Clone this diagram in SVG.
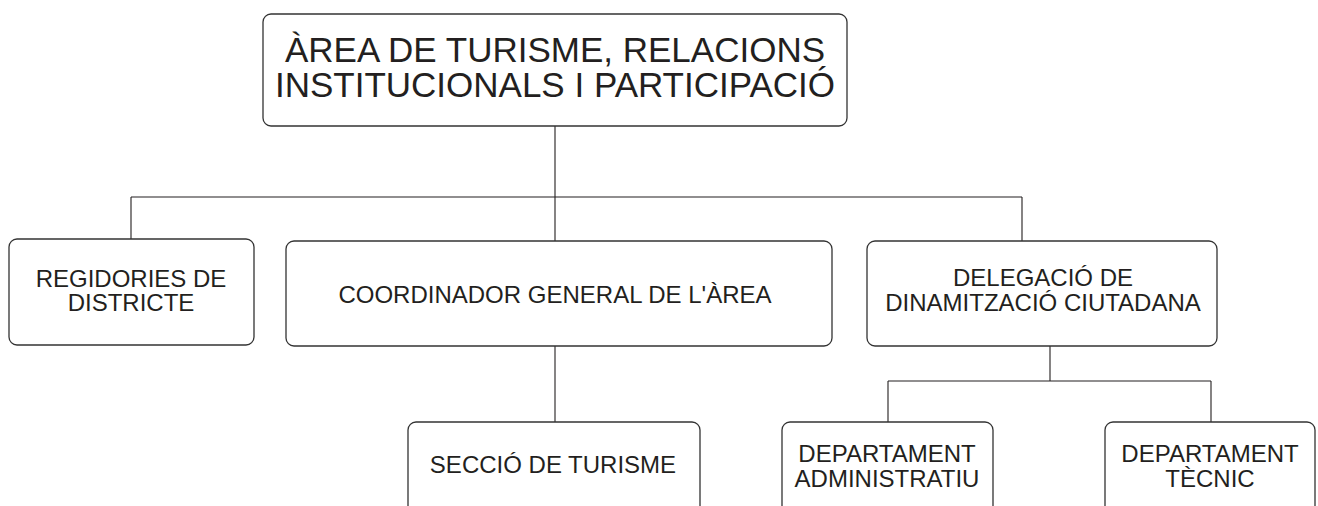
<svg xmlns="http://www.w3.org/2000/svg" width="1318" height="506" viewBox="0 0 1318 506">
<style>
.box{fill:#fff;stroke:#333;stroke-width:1.3}
.t{font-family:"Liberation Sans",Arial,sans-serif;fill:#231f20;text-anchor:middle}
.big{font-size:35px}
.sm{font-size:24px}
.c{stroke:#231f20;stroke-width:1.1;fill:none}
</style>
<rect width="1318" height="506" fill="#fff"/>
<g id="connectors">
<path class="c" d="M555 126V241M131 197H1022M131 197V239M1022 197V241"/>
<path class="c" d="M555 346V422"/>
<path class="c" d="M1050 346V381M888 381H1211M888 381V422M1211 381V422"/>
</g>
<g id="area">
<rect class="box" x="263" y="14" width="584" height="112" rx="8"/>
<text class="t big" x="555" y="62">ÀREA DE TURISME, RELACIONS</text>
<text class="t big" x="555" y="97">INSTITUCIONALS I PARTICIPACIÓ</text>
</g>
<g id="regidories">
<rect class="box" x="9" y="239" width="245" height="106" rx="8"/>
<text class="t sm" x="131" y="287">REGIDORIES DE</text>
<text class="t sm" x="131" y="311">DISTRICTE</text>
</g>
<g id="coordinador">
<rect class="box" x="286" y="241" width="546" height="105" rx="8"/>
<text class="t sm" x="555" y="303">COORDINADOR GENERAL DE L'ÀREA</text>
</g>
<g id="delegacio">
<rect class="box" x="867" y="241" width="350" height="105" rx="8"/>
<text class="t sm" x="1043" y="286">DELEGACIÓ DE</text>
<text class="t sm" x="1043" y="311">DINAMITZACIÓ CIUTADANA</text>
</g>
<g id="seccio">
<rect class="box" x="408" y="422" width="292" height="110" rx="8"/>
<text class="t sm" x="553" y="473">SECCIÓ DE TURISME</text>
</g>
<g id="dept-admin">
<rect class="box" x="782" y="422" width="211" height="110" rx="8"/>
<text class="t sm" x="887" y="462">DEPARTAMENT</text>
<text class="t sm" x="887" y="487">ADMINISTRATIU</text>
</g>
<g id="dept-tecnic">
<rect class="box" x="1105" y="422" width="210" height="110" rx="8"/>
<text class="t sm" x="1210" y="462">DEPARTAMENT</text>
<text class="t sm" x="1210" y="487">TÈCNIC</text>
</g>
</svg>
